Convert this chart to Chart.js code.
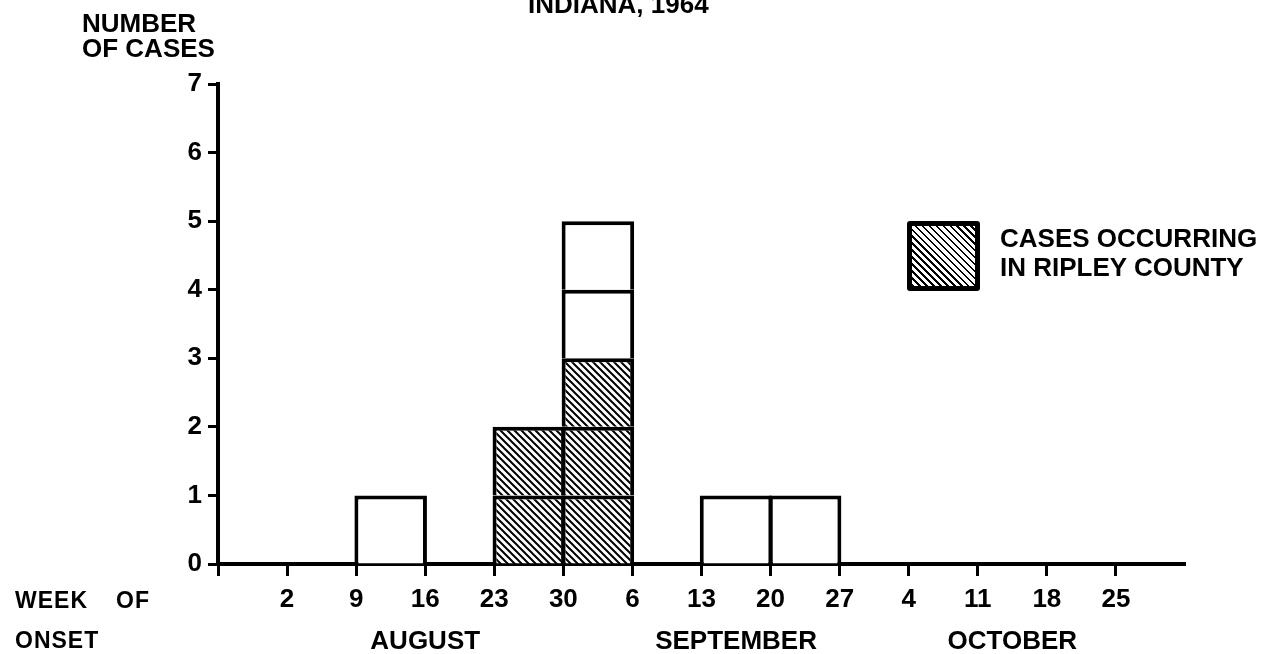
<!DOCTYPE html>
<html>
<head>
<meta charset="utf-8">
<script src="https://cdn.jsdelivr.net/npm/chart.js@4.4.0/dist/chart.umd.min.js"></script>
<style>
  html, body { margin: 0; padding: 0; background: #fff; overflow: hidden; }
  #wrap { position: relative; width: 1279px; height: 654px; font-family: 'Liberation Sans', Arial, sans-serif; font-weight: bold; color: #000; }
  #wrap canvas { position: absolute; left: 0; top: 0; }
  .lbl { position: absolute; white-space: pre; line-height: 1; }
  .big { font-size: 26px; }
  .mid { font-size: 23px; letter-spacing: 1px; }
  #key { position: absolute; left: 907px; top: 221px; width: 73px; height: 70px; box-sizing: border-box;
         border: 5px solid #000; border-radius: 3px;
         background: repeating-linear-gradient(45deg, #000 0, #000 1.8px, #fff 1.8px, #fff 4.9px); }
</style>
</head>
<body>
<div id="wrap">
  <canvas id="epiChart" width="1279" height="654"></canvas>
  <div class="lbl big" style="left:528px; top:-9px;">INDIANA, 1964</div>
  <div class="lbl big" style="left:82px; top:10px;">NUMBER</div>
  <div class="lbl big" style="left:82px; top:35px;">OF CASES</div>
  <div class="lbl mid" style="left:15px; top:589px;">WEEK</div>
  <div class="lbl mid" style="left:116px; top:589px;">OF</div>
  <div class="lbl mid" style="left:15px; top:629px;">ONSET</div>
  <div id="key"></div>
  <div class="lbl big" style="left:1000px; top:225px;">CASES OCCURRING</div>
  <div class="lbl big" style="left:1000px; top:254px;">IN RIPLEY COUNTY</div>
</div>
<script>
// Week of onset, 1964 (each week starts on the date shown)
const weekStarts = ['Jul 26', 'Aug 2', 'Aug 9', 'Aug 16', 'Aug 23', 'Aug 30', 'Sep 6',
                    'Sep 13', 'Sep 20', 'Sep 27', 'Oct 4', 'Oct 11', 'Oct 18', 'Oct 25'];
const weekTickLabels = ['', '2', '9', '16', '23', '30', '6', '13', '20', '27', '4', '11', '18', '25'];
const ripleyCases = [0, 0, 0, 0, 2, 3, 0, 0, 0, 0, 0, 0, 0, 0];
const otherCases  = [0, 0, 1, 0, 0, 2, 0, 1, 1, 0, 0, 0, 0, 0];
const monthNames = ['AUGUST', 'SEPTEMBER', 'OCTOBER'];
const monthTickPos = [3, 7.5, 11.5];
const yMax = 7;

const FONT = { family: "'Liberation Sans', Arial, sans-serif", size: 26, weight: 'bold' };

// diagonal hatching for the Ripley County cases
function makeHatch(ctx) {
    const s = 7;
    const c = document.createElement('canvas');
    c.width = s; c.height = s;
    const g = c.getContext('2d');
    g.fillStyle = '#fff';
    g.fillRect(0, 0, s, s);
    g.strokeStyle = '#000';
    g.lineWidth = 2;
    g.beginPath();
    g.moveTo(0, 0); g.lineTo(s, s);
    g.moveTo(-1, s - 1); g.lineTo(1, s + 1);
    g.moveTo(s - 1, -1); g.lineTo(s + 1, 1);
    g.stroke();
    return ctx.createPattern(c, 'repeat');
}

const ctx = document.getElementById('epiChart').getContext('2d');
const hatch = makeHatch(ctx);

// one dataset per stacking level, each case drawn as its own box
const totals = ripleyCases.map((r, i) => r + otherCases[i]);
const maxLevel = Math.max(...totals);
const datasets = [];
for (let k = 1; k <= maxLevel; k++) {
    const boxes = [];
    totals.forEach((t, i) => {
        if (t >= k) boxes.push({ x: i + 0.5, y: [k - 1, k], week: i, level: k });
    });
    datasets.push({
        label: 'Cases, level ' + k,
        data: boxes,
        backgroundColor: c => (c.raw && c.raw.level <= ripleyCases[c.raw.week]) ? hatch : '#fff',
        borderColor: '#000',
        borderWidth: { top: 4, left: 4, right: 4, bottom: 0 },
        borderSkipped: false,
        inflateAmount: 0,
        grouped: false,
        categoryPercentage: 1,
        barPercentage: 1.05
    });
}

new Chart(ctx, {
    type: 'bar',
    data: { datasets: datasets },
    options: {
        responsive: false,
        animation: false,
        layout: { padding: { top: 84, right: 94, left: 0, bottom: 0 } },
        plugins: { legend: { display: false }, tooltip: { enabled: false } },
        scales: {
            x: {
                type: 'linear',
                position: 'bottom',
                offset: false,
                min: 0,
                max: weekStarts.length,
                z: 1,
                afterBuildTicks: s => { s.ticks = weekTickLabels.map((_, i) => ({ value: i })); },
                afterFit: s => { s.height = 62; },
                border: { display: true, color: '#000', width: 4 },
                grid: { offset: false, drawOnChartArea: false, drawTicks: true, tickLength: 12, tickWidth: 3, tickColor: '#000' },
                ticks: {
                    autoSkip: false, maxRotation: 0, padding: 8, color: '#000', font: FONT,
                    callback: (v) => weekTickLabels[v]
                }
            },
            months: {
                type: 'linear',
                position: 'bottom',
                offset: false,
                min: 0,
                max: weekStarts.length,
                afterBuildTicks: s => { s.ticks = monthTickPos.map(v => ({ value: v })); },
                afterFit: s => { s.height = 28; },
                border: { display: false },
                grid: { offset: false, display: false, drawTicks: false },
                ticks: {
                    autoSkip: false, maxRotation: 0, padding: 0, color: '#000', font: FONT,
                    callback: (v, i) => monthNames[i]
                }
            },
            y: {
                min: 0,
                max: yMax,
                z: 1,
                afterFit: s => { s.width = 218; },
                border: { display: true, color: '#000', width: 4 },
                grid: { drawOnChartArea: false, drawTicks: true, tickLength: 10, tickWidth: 3, tickColor: '#000' },
                ticks: { stepSize: 1, padding: 6, color: '#000', font: FONT }
            }
        }
    }
});
</script>
</body>
</html>
